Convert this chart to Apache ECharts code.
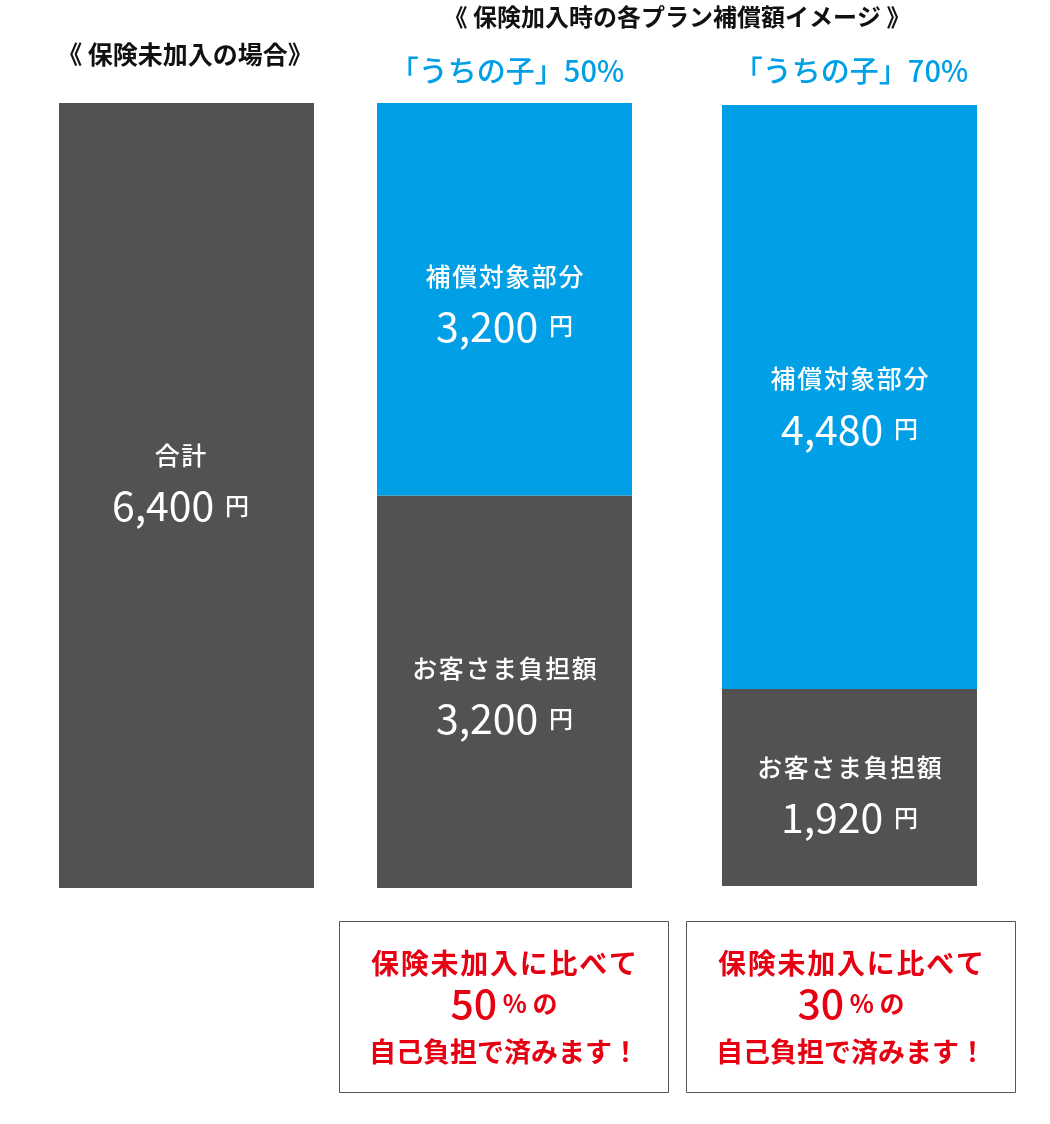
<!DOCTYPE html>
<html>
<head>
<meta charset="utf-8">
<script src="https://cdn.jsdelivr.net/npm/echarts@6/dist/echarts.min.js"></script>
<style>
html,body{margin:0;padding:0;background:#fff;}
#chart{width:1050px;height:1124px;}
</style>
</head>
<body>
<div id="chart"></div>
<script>
// ---- data ----
const plans = ['保険未加入', '「うちの子」50%', '「うちの子」70%'];
const burdenLabelNames = ['合計', 'お客さま負担額', 'お客さま負担額'];
const coveredLabelName = '補償対象部分';
// amounts printed on the bars (円)
const burdenAmounts = [6400, 3200, 1920];
const coveredAmounts = [0, 3200, 4480];
// segment heights as drawn in the picture (円 scale)
const burdenHeights = [6400, 3200, 1615];
const coveredHeights = [0, 3200, 4785];
const axisMax = 6400;
const titleLeft = '《 保険未加入の場合》';
const titleRight = '《 保険加入時の各プラン補償額イメージ 》';
const savingPercents = ['50', '30'];
const boxLine1 = '保険未加入に比べて';
const boxLine3 = '自己負担で済みます！';

// ---- style ----
const DARK = '#525252';
const BLUE = '#009FE6';
const RED = '#E60012';
const FONT = '"Noto Sans CJK JP", "Noto Sans", sans-serif';
const HAIR = '\u200A';
const spaced = s => Array.from(s).join(HAIR);

const fmt = v => v.toLocaleString('en-US');

const gridBoxes = [
  { left: 59, top: 103, width: 255, height: 785 },
  { left: 377, top: 103, width: 255, height: 785 },
  { left: 722, top: 105, width: 255, height: 781 }
];
const labelOffsets = [
  { burden: [-6, -15], covered: [0, 0] },
  { burden: [0, 2], covered: [0, 2] },
  { burden: [0, 5], covered: [0, 7] }
];

const rich = {
  n: { fontSize: 25, color: '#fff', fontFamily: FONT, fontWeight: 500, lineHeight: 50 },
  v: { fontSize: 41, color: '#fff', fontFamily: FONT, fontWeight: 400, lineHeight: 50 },
  y: { fontSize: 24, color: '#fff', fontFamily: FONT, fontWeight: 500, lineHeight: 50 }
};

const grid = [], xAxis = [], yAxis = [], series = [];
plans.forEach((p, i) => {
  grid.push(Object.assign({ containLabel: false }, gridBoxes[i]));
  xAxis.push({ type: 'category', gridIndex: i, data: [p], show: false });
  yAxis.push({ type: 'value', gridIndex: i, min: 0, max: axisMax, show: false });
  series.push({
    type: 'bar', xAxisIndex: i, yAxisIndex: i, stack: 's' + i,
    barWidth: '100%', silent: true,
    itemStyle: { color: DARK },
    label: {
      show: true, position: 'inside', offset: labelOffsets[i].burden,
      formatter: () => '{n|' + spaced(burdenLabelNames[i]) + '}\n{v|' + fmt(burdenAmounts[i]) + '}{y|  円}',
      rich
    },
    data: [burdenHeights[i]]
  });
  series.push({
    type: 'bar', xAxisIndex: i, yAxisIndex: i, stack: 's' + i,
    barWidth: '100%', silent: true,
    itemStyle: { color: BLUE },
    label: {
      show: coveredHeights[i] > 0, position: 'inside', offset: labelOffsets[i].covered,
      formatter: () => '{n|' + spaced(coveredLabelName) + '}\n{v|' + fmt(coveredAmounts[i]) + '}{y|  円}',
      rich
    },
    data: [coveredHeights[i]]
  });
});

const graphic = [];
// titles
graphic.push({ type: 'text', x: 185, y: 54, style: { text: titleLeft, fontSize: 25, fontWeight: 'bold', fill: '#111', fontFamily: FONT, align: 'center', verticalAlign: 'middle' } });
graphic.push({ type: 'text', x: 677, y: 17, style: { text: titleRight, fontSize: 24, fontWeight: 'bold', fill: '#111', fontFamily: FONT, align: 'center', verticalAlign: 'middle' } });
graphic.push({ type: 'text', x: 507, y: 71, style: { text: plans[1], fontSize: 29, fontWeight: 500, fill: BLUE, fontFamily: FONT, align: 'center', verticalAlign: 'middle' } });
graphic.push({ type: 'text', x: 851, y: 71, style: { text: plans[2], fontSize: 29, fontWeight: 500, fill: BLUE, fontFamily: FONT, align: 'center', verticalAlign: 'middle' } });

// boxes
const boxes = [{ x: 339, cx: 504 }, { x: 686, cx: 851 }];
boxes.forEach((b, k) => {
  graphic.push({ type: 'rect', shape: { x: b.x + 0.5, y: 921.5, width: 329, height: 171 }, style: { fill: '#fff', stroke: '#555', lineWidth: 1 } });
  graphic.push({ type: 'text', x: b.cx, y: 963, style: { text: spaced(boxLine1), fontSize: 28, fontWeight: 'bold', fill: RED, fontFamily: FONT, align: 'center', verticalAlign: 'middle' } });
  graphic.push({ type: 'text', x: b.cx, y: 1003, style: {
    text: '{p|' + savingPercents[k] + '}{s| %}{s| の}',
    align: 'center', verticalAlign: 'middle',
    rich: {
      p: { fontSize: 41, fontWeight: 500, fill: RED, fontFamily: FONT },
      s: { fontSize: 25, fontWeight: 'bold', fill: RED, fontFamily: FONT }
    }
  } });
  graphic.push({ type: 'text', x: b.cx, y: 1052, style: { text: boxLine3, fontSize: 27, fontWeight: 'bold', fill: RED, fontFamily: FONT, align: 'center', verticalAlign: 'middle' } });
});

const chart = echarts.init(document.getElementById('chart'), null, { renderer: 'canvas' });
chart.setOption({
  backgroundColor: '#fff',
  animation: false,
  grid, xAxis, yAxis, series, graphic
});
</script>
</body>
</html>
